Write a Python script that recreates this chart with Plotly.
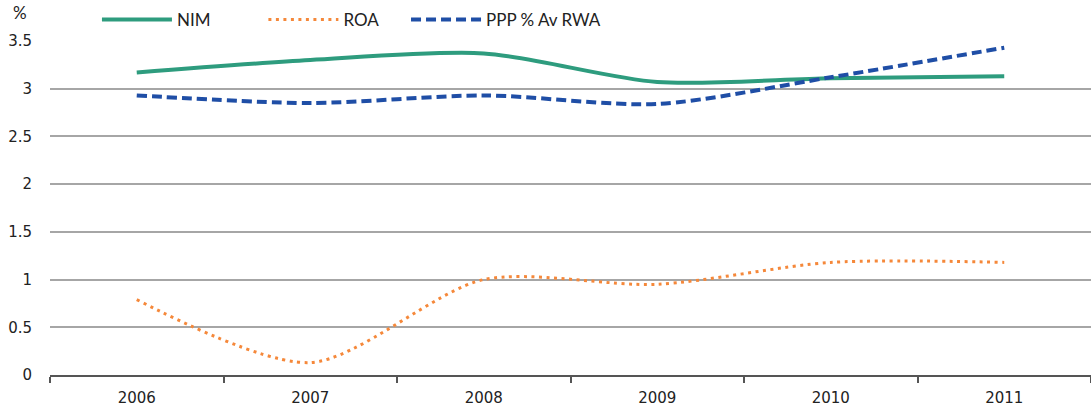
import plotly.graph_objects as go

years = ["2006", "2007", "2008", "2009", "2010", "2011"]
nim = [3.17, 3.30, 3.37, 3.07, 3.11, 3.13]
roa = [0.79, 0.13, 1.00, 0.95, 1.18, 1.18]
ppp = [2.93, 2.85, 2.93, 2.84, 3.12, 3.43]

y_ticks = [0, 0.5, 1, 1.5, 2, 2.5, 3, 3.5]
y_labels = ["0", "0.5", "1", "1.5", "2", "2.5", "3", "3.5"]

LEG_FONT = "Lato"
TICK_FONT = "DejaVu Sans"
TXT = "#222222"

fig = go.Figure()
fig.add_trace(go.Scatter(
    x=years, y=nim, name="NIM", mode="lines", legend="legend",
    line=dict(color="#2E9C7E", width=4, shape="spline", smoothing=0.8),
))
fig.add_trace(go.Scatter(
    x=years, y=roa, name="ROA", mode="lines", legend="legend2",
    line=dict(color="#F5883A", width=3, dash="3px,4.5px", shape="spline", smoothing=0.8),
))
fig.add_trace(go.Scatter(
    x=years, y=ppp, name="PPP % Av RWA", mode="lines", legend="legend3",
    line=dict(color="#1F4EA6", width=4, dash="10px,5px", shape="spline", smoothing=0.8),
))


def legend_box(x):
    # one legend entry per box, laid out in a row above the plot
    return dict(
        orientation="h", x=x, y=1.063, xanchor="left", yanchor="middle",
        font=dict(family=LEG_FONT, size=17, color=TXT),
        itemwidth=70, bgcolor="rgba(0,0,0,0)",
    )


fig.update_layout(
    width=1091, height=407,
    margin=dict(l=50, r=0, t=41, b=32),
    paper_bgcolor="white", plot_bgcolor="white",
    font=dict(family=LEG_FONT, size=17, color=TXT),
    showlegend=True,
    legend=legend_box(0.0451),
    legend2=legend_box(0.205),
    legend3=legend_box(0.342),
    xaxis=dict(
        type="category", range=[-0.5, 5.5],
        tickson="boundaries", ticks="outside", ticklen=6, tickwidth=1.5,
        tickcolor="#555555", showline=True, linecolor="#555555", linewidth=1.5,
        showgrid=False, ticklabelstandoff=8,
        tickfont=dict(family=TICK_FONT, size=15, color=TXT),
    ),
    yaxis=dict(
        range=[0, 3.5], tickvals=y_ticks, ticktext=y_labels,
        showgrid=True, gridcolor="#A6A6A6", gridwidth=1.5,
        zeroline=False, showline=False, ticks="", ticklabelstandoff=17,
        tickfont=dict(family=TICK_FONT, size=15, color=TXT),
    ),
    annotations=[dict(
        text="%", xref="paper", yref="paper", x=-0.029, y=1.0,
        xanchor="center", yanchor="bottom", yshift=16, showarrow=False,
        font=dict(family=LEG_FONT, size=17, color=TXT),
    )],
)

fig.write_html("out.html")
